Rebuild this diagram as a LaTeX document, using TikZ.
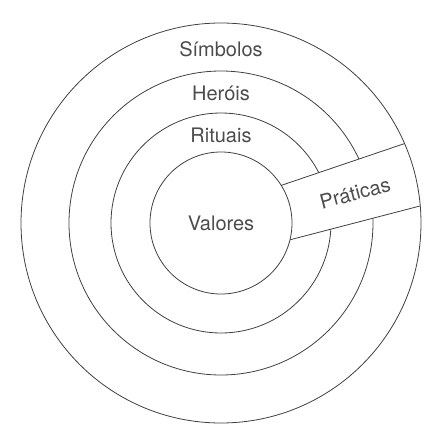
\documentclass[tikz,border=0pt]{standalone}
\usepackage{fontspec}
\setmainfont{TeX Gyre Heros}
\usepackage{tikz}
\definecolor{linegray}{gray}{0.25}
\definecolor{textgray}{gray}{0.3}

\begin{document}
\begin{tikzpicture}[x=1pt, y=1pt]

  \tikzset{ring/.style = {draw=linegray, line width=0.8pt}}
  \tikzset{ringtext/.style = {text=textgray, font=\fontsize{20}{24}\selectfont, anchor=base}}
  \useasboundingbox (-221,-209) rectangle (206,223);
  % middle rings
  \draw[ring] (0,0) circle (110);
  \draw[ring] (0,0) circle (152);
  % band
  \coordinate (pi1) at (32:71);
  \coordinate (po1) at (23.4:200);
  \coordinate (pi2) at (-13.7:71);
  \coordinate (po2) at (4.9:200);
  \fill[white] (pi1) -- (po1) arc[start angle=23.4, end angle=4.9, radius=200]
    -- (pi2) arc[start angle=-13.7, end angle=32, radius=71] -- cycle;
  % inner and outer rings
  \draw[ring] (0,0) circle (71);
  \draw[ring] (0,0) circle (200);
  \draw[ring] (pi1) -- (po1);
  \draw[ring] (pi2) -- (po2);
  % labels
  \node[ringtext] (simbolos) at (0,167)  {Símbolos};
  \node[ringtext] (herois)   at (0,122.3) {Heróis};
  \node[ringtext] (rituais)  at (0,80.3)  {Rituais};
  \node[ringtext] (valores)  at (0,-7.7)  {Valores};
  \node[ringtext, anchor=center, rotate=15] (praticas) at (134,30) {Práticas};
\end{tikzpicture}
\end{document}
